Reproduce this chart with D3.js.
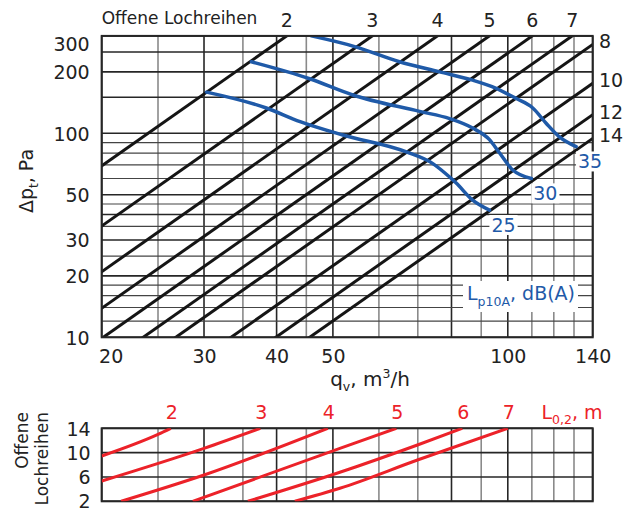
<!DOCTYPE html>
<html><head><meta charset="utf-8">
<script src="https://cdn.jsdelivr.net/npm/d3@7"></script>
<style>body{margin:0;background:#fff}svg{display:block}text{font-family:"DejaVu Sans",sans-serif}</style>
</head><body><svg id="c" width="633" height="508"></svg>
<script>
// ---------- data ----------
const xGridValues = [20,25,30,35,40,45,50,60,70,80,90,100,110,120,130,140];
const xMajorValues = [20,30,40,50,80,100,140];
const xTickLabels = [20,30,40,50,100,140];
const yGridValues = [10,12,14,16,18,20,25,30,35,40,45,50,60,70,80,90,100,150,200,250,300];
const yMajorValues = [10,20,30,40,50,100,150,200,250,300];
const yTickLabels = [10,20,30,50,100,200,300];
// open hole rows and their pressure drop at q = 100 m3/h (Δp = k·q²)
const rowCounts = [2,3,4,5,6,7,8,10,12,14];
const dpAtQ100 = [1730,878,524,347,247,180,139,89.7,62.9,48.1];
// sound level curves Lp10A (q m3/h, Δp Pa)
const noiseLevels = [25,30,35];
const noise25 = [[30.3,159],[38.4,133],[43.9,114],[52.0,98],[66.9,81],[74.3,71],[79.4,61],[81.5,57],[87.0,47],[93.0,42]];
const noise30 = [[36.2,224],[45.6,185],[54.1,154],[70.5,128],[79.4,118],[87.0,106],[93.0,93],[96.8,80],[102,66],[109.8,60]];
const noise35 = [[45.9,300],[54.5,266],[65.1,224],[76.3,200],[87.0,182],[95.5,166],[103.4,148],[110.4,133],[116.4,112],[122.7,96],[131.1,86]];
// throw length L0,2 (m) lines: (q m3/h, open rows)
const throwLengths = [2,3,4,5,6,7];
const throw2 = [[20,9.45],[25,13.0],[26.3,14]];
const throw3 = [[20,5.34],[30,10.71],[37.5,14]];
const throw4 = [[21.6,2],[30,6.32],[49.0,14]];
const throw5 = [[28.7,2],[51.4,10.71],[64.3,14]];
const throw6 = [[35.7,2],[51.4,6.77],[69.9,11.26],[83.5,14]];
const throw7 = [[43.0,2],[51.4,4.14],[69.9,8.79],[100,14]];
const rowTicksBottom = [2,6,10,14];

// ---------- drawing ----------
const svg = d3.select("#c");
const X0 = 101.7, X1 = 592.7;
const x = d3.scaleLog().domain([20,140]).range([X0,X1]);
const yT = d3.scaleLog().domain([10,300]).range([337.3,35.9]);
const yB = d3.scaleLinear().domain([2,14]).range([501.3,428.3]);
const BLUE = "#1f5aa8", RED = "#ec2229", DARK = "#262626", GRAY = "#8a8a8a";

svg.append("defs").append("clipPath").attr("id","clipT")
  .append("rect").attr("x",X0).attr("y",yT(300)).attr("width",X1-X0).attr("height",yT(10)-yT(300));
svg.select("defs").append("clipPath").attr("id","clipB")
  .append("rect").attr("x",X0).attr("y",yB(14)).attr("width",X1-X0).attr("height",yB(2)-yB(14));

function vgrid(g, y0, y1){
  g.selectAll("line.v").data(xGridValues).join("line").attr("class","v")
    .attr("x1",d=>x(d)).attr("x2",d=>x(d)).attr("y1",y0).attr("y2",y1)
    .attr("stroke",d=>xMajorValues.includes(d)?DARK:GRAY).attr("stroke-width",1.6);
}
// top grid
const gT = svg.append("g");
vgrid(gT, yT(300), yT(10));
gT.selectAll("line.h").data(yGridValues).join("line").attr("class","h")
  .attr("x1",X0).attr("x2",X1).attr("y1",d=>yT(d)).attr("y2",d=>yT(d))
  .attr("stroke",d=>yMajorValues.includes(d)?DARK:"#444").attr("stroke-width",d=>yMajorValues.includes(d)?1.6:1.2);

// diagonal open-row lines
const lineT = d3.line().x(d=>x(d[0])).y(d=>yT(d[1]));
const gD = svg.append("g").attr("clip-path","url(#clipT)");
rowCounts.forEach((n,i)=>{
  const k = dpAtQ100[i]/10000;
  gD.append("path").attr("d",lineT([[15,k*225],[170,k*28900]]))
    .attr("fill","none").attr("stroke","#151515").attr("stroke-width",3);
});

// noise curves
const curveT = d3.line().x(d=>x(d[0])).y(d=>yT(d[1])).curve(d3.curveMonotoneX);
const noiseData = [noise25,noise30,noise35];
noiseData.forEach(pts=>{
  gD.append("path").attr("d",curveT(pts)).attr("fill","none").attr("stroke",BLUE)
    .attr("stroke-width",3.5).attr("stroke-linecap","round");
});

// top frame
svg.append("rect").attr("x",X0).attr("y",yT(300)).attr("width",X1-X0).attr("height",yT(10)-yT(300))
  .attr("fill","none").attr("stroke",DARK).attr("stroke-width",2);

// labels with white background
function boxedText(txt, cx, cy, color, size){
  const g = svg.append("g");
  const r = g.append("rect").attr("fill","#fff");
  const t = g.append("text").attr("x",cx).attr("y",cy).attr("text-anchor","middle")
    .attr("dy","0.36em").attr("font-size",size).attr("fill",color).text(txt);
  const b = t.node().getBBox();
  r.attr("x",b.x-2).attr("y",b.y+1).attr("width",b.width+4).attr("height",b.height-2);
}
noiseData.forEach((pts,i)=>{
  const last = pts[pts.length-1];
  boxedText(String(noiseLevels[i]), x(last[0])+14, yT(last[1])+15, BLUE, 19);
});

// Lp10A legend label
{
  const g = svg.append("g");
  const r = g.append("rect").attr("fill","#fff");
  const t = g.append("text").attr("x",467).attr("y",300).attr("font-size",19).attr("fill",BLUE);
  t.append("tspan").text("L");
  t.append("tspan").attr("font-size",12.5).attr("dy",6).text("p10A");
  t.append("tspan").attr("dy",-6).text(", dB(A)");
  const b = t.node().getBBox();
  r.attr("x",b.x-4).attr("y",b.y-1).attr("width",b.width+7).attr("height",b.height+4);
}

// top labels
svg.append("text").attr("x",X0).attr("y",23.5).attr("font-size",17).attr("fill","#222").text("Offene Lochreihen");
rowCounts.forEach((n,i)=>{
  const k = dpAtQ100[i]/10000;
  if (n<=7){
    svg.append("text").attr("x",x(Math.sqrt(300/k))).attr("y",26.5).attr("text-anchor","middle")
      .attr("font-size",19).attr("fill","#222").text(n);
  } else {
    svg.append("text").attr("x",599).attr("y",yT(k*19600)-3).attr("dy","0.36em")
      .attr("font-size",19).attr("fill","#222").text(n);
  }
});

// axes tick labels
const axB = svg.append("g").attr("transform",`translate(0,${yT(10)})`)
  .call(d3.axisBottom(x).tickValues(xTickLabels).tickFormat(d3.format("d")).tickSize(0).tickPadding(9));
axB.select(".domain").remove();
axB.selectAll("text").attr("font-size",19).attr("fill","#222").attr("font-family","DejaVu Sans")
  .attr("dx",d=>d===20?9:0).attr("dy","0.9em");
const axL = svg.append("g").attr("transform",`translate(${X0},0)`)
  .call(d3.axisLeft(yT).tickValues(yTickLabels).tickFormat(d3.format("d")).tickSize(0).tickPadding(12));
axL.select(".domain").remove();
axL.selectAll("text").attr("font-size",19).attr("fill","#222").attr("font-family","DejaVu Sans")
  .attr("dy",d=>d===300?"0.75em":"0.36em");

// axis titles
{
  const t = svg.append("text").attr("transform","translate(33,181) rotate(-90)")
    .attr("text-anchor","middle").attr("font-size",19).attr("fill","#222");
  t.append("tspan").text("Δp");
  t.append("tspan").attr("font-size",12).attr("dy",5).text("t");
  t.append("tspan").attr("dy",-5).text(", Pa");
  const t2 = svg.append("text").attr("x",370).attr("y",386).attr("text-anchor","middle")
    .attr("font-size",20).attr("fill","#222");
  t2.append("tspan").text("q");
  t2.append("tspan").attr("font-size",12.5).attr("dy",5).text("v");
  t2.append("tspan").attr("dy",-5).text(", m");
  t2.append("tspan").attr("font-size",12.5).attr("dy",-8).text("3");
  t2.append("tspan").attr("dy",8).text("/h");
}

// ---------- bottom chart ----------
const gB = svg.append("g");
vgrid(gB, yB(14), yB(2));
gB.selectAll("line.h").data(rowTicksBottom).join("line").attr("class","h")
  .attr("x1",X0).attr("x2",X1).attr("y1",d=>yB(d)).attr("y2",d=>yB(d))
  .attr("stroke",DARK).attr("stroke-width",1.6);
svg.append("rect").attr("x",X0).attr("y",yB(14)).attr("width",X1-X0).attr("height",yB(2)-yB(14))
  .attr("fill","none").attr("stroke",DARK).attr("stroke-width",2);

const lineB = d3.line().x(d=>x(d[0])).y(d=>yB(d[1])).curve(d3.curveMonotoneX);
const throwData = [throw2,throw3,throw4,throw5,throw6,throw7];
const gR = svg.append("g").attr("clip-path","url(#clipB)");
throwData.forEach((pts,i)=>{
  gR.append("path").attr("d",lineB(pts)).attr("fill","none").attr("stroke",RED).attr("stroke-width",3);
  const last = pts[pts.length-1];
  svg.append("text").attr("x",x(last[0])+1).attr("y",418.5).attr("text-anchor","middle")
    .attr("font-size",19).attr("fill",RED).text(throwLengths[i]);
});
{
  const t = svg.append("text").attr("x",541.5).attr("y",418.5).attr("font-size",19).attr("fill",RED);
  t.append("tspan").text("L");
  t.append("tspan").attr("font-size",12.5).attr("dy",5).text("0,2");
  t.append("tspan").attr("dy",-5).text(", m");
}
const axBL = svg.append("g").attr("transform",`translate(${X0},0)`)
  .call(d3.axisLeft(yB).tickValues(rowTicksBottom).tickFormat(d3.format("d")).tickSize(0).tickPadding(11));
axBL.select(".domain").remove();
axBL.selectAll("text").attr("font-size",19).attr("fill","#222").attr("font-family","DejaVu Sans")
  .attr("dy",d=>d===2?"0.3em":"0.36em");
svg.append("text").attr("transform","translate(28,412) rotate(-90)").attr("text-anchor","end")
  .attr("font-size",17).attr("fill","#222").text("Offene");
svg.append("text").attr("transform","translate(48,412) rotate(-90)").attr("text-anchor","end")
  .attr("font-size",17).attr("fill","#222").text("Lochreihen");
</script></body></html>
